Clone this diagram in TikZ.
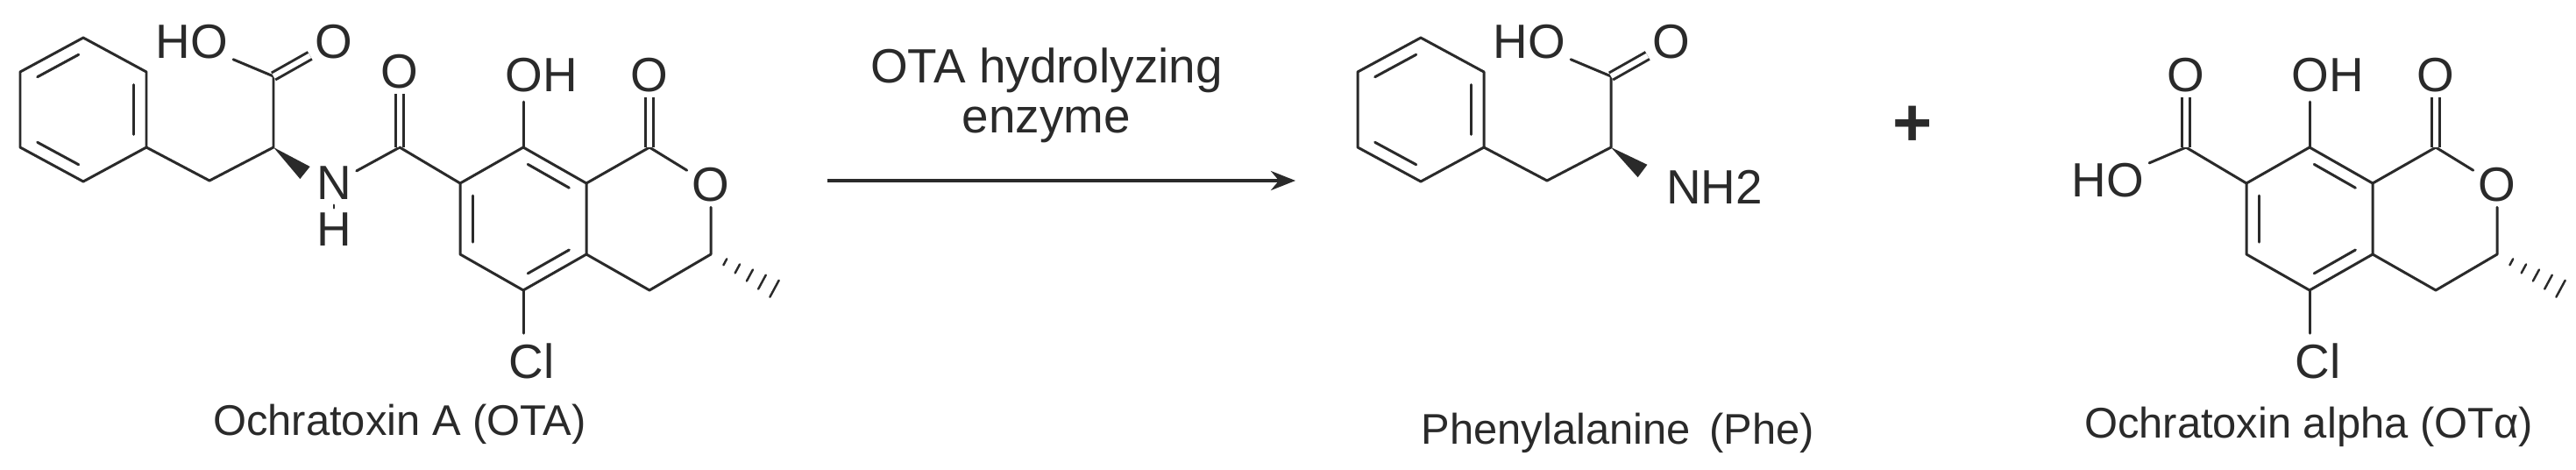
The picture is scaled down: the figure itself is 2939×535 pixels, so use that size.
\documentclass[tikz,border=0pt]{standalone}
\usepackage{fontspec}
\setmainfont{Liberation Sans}
\usetikzlibrary{calc,arrows.meta}
\definecolor{ink}{HTML}{2A2A2A}
\newcommand{\atomfont}{\fontsize{15.6}{18}\selectfont}
\newcommand{\capfont}{\fontsize{13.9}{16}\selectfont}
\newcommand{\hexdbl}[3]{\draw[bond,shorten <=0.06cm,shorten >=0.06cm] ($(#1)!0.2!(#3)$) -- ($(#2)!0.2!(#3)$);}
\begin{document}
\begin{tikzpicture}[x=0.01cm,y=-0.01cm,
  bond/.style={line width=0.85pt,draw=ink,line cap=round,line join=round},
  dbl/.style={draw=ink,line width=0.85pt,double=white,double distance=0.06cm},
  atom/.style={font=\atomfont,text=ink,inner sep=1.5pt},
  caption/.style={font=\capfont,text=ink,inner sep=0pt}]
\useasboundingbox (0,0) rectangle (2939,535);
\fill[white] (0,0) rectangle (2939,535);

% ---------- phenylalanine fragment (used twice) ----------
\foreach \dx/\pre in {0/a, 1526/p}{
\begin{scope}[shift={(\dx,0)}]
  \coordinate (\pre b1) at (95,43);  \coordinate (\pre b2) at (167,82);
  \coordinate (\pre b3) at (167,168); \coordinate (\pre b4) at (95,207);
  \coordinate (\pre b5) at (23,168);  \coordinate (\pre b6) at (23,82);
  \coordinate (\pre bc) at (95,125);
  \draw[bond] (\pre b1)--(\pre b2)--(\pre b3)--(\pre b4)--(\pre b5)--(\pre b6)--cycle;
  \hexdbl{\pre b6}{\pre b1}{\pre bc}
  \hexdbl{\pre b2}{\pre b3}{\pre bc}
  \hexdbl{\pre b4}{\pre b5}{\pre bc}
  \coordinate (\pre ch2) at (239,206);
  \coordinate (\pre ca) at (312,168);
  \coordinate (\pre cc) at (312,87);
  \node[atom] (\pre ho) at (219,48) {HO};
  \node[atom] (\pre o) at (381,48) {O};
  \draw[bond] (\pre b3)--(\pre ch2)--(\pre ca)--(\pre cc);
  \draw[bond] (\pre cc)--(\pre ho);
  \draw[dbl] (\pre cc)--(\pre o);
\end{scope}}
% wedges
\coordinate (awe) at (348,197);
\fill[ink] (aca) -- ($(awe)!0.09cm!90:(aca)$) -- ($(awe)!0.09cm!-90:(aca)$) -- cycle;
\coordinate (pwe) at (1874,195);
\fill[ink] (pca) -- ($(pwe)!0.09cm!90:(pca)$) -- ($(pwe)!0.09cm!-90:(pca)$) -- cycle;
\node[atom,anchor=west] (pnh2) at (1895,213) {NH2};

% ---------- OTA amide ----------
\node[atom] (an) at (381,209) {N};
\node[atom] (ah) at (381,262) {H};
\draw[bond] (an)--(ah);
\coordinate (aam) at (456,168);
\node[atom] (aamo) at (456,82) {O};
\draw[bond] (an)--(aam);
\draw[dbl] (aam)--(aamo);

% ---------- isochromanone core (used twice) ----------
\foreach \dx/\pre in {0/a, 2038/t}{
\begin{scope}[shift={(\dx,0)}]
  \coordinate (\pre c7) at (525,209); \coordinate (\pre c8) at (597,168);
  \coordinate (\pre c8a) at (669,209); \coordinate (\pre c4a) at (669,290);
  \coordinate (\pre c5) at (597,331); \coordinate (\pre c6) at (525,290);
  \coordinate (\pre rc) at (597,250);
  \draw[bond] (\pre c7)--(\pre c8)--(\pre c8a)--(\pre c4a)--(\pre c5)--(\pre c6)--cycle;
  \hexdbl{\pre c8}{\pre c8a}{\pre rc}
  \hexdbl{\pre c6}{\pre c7}{\pre rc}
  \hexdbl{\pre c4a}{\pre c5}{\pre rc}
  \node[atom,anchor=west,inner sep=0pt] (\pre oh) at (576,86) {OH};
  \coordinate (\pre ohb) at (597,116);
  \draw[bond] (\pre c8)--(\pre ohb);
  \node[atom,anchor=west,inner sep=0pt] (\pre cl) at (580,412) {Cl};
  \coordinate (\pre clb) at (597,380);
  \draw[bond] (\pre c5)--(\pre clb);
  \coordinate (\pre c1) at (741,168);
  \node[atom] (\pre co) at (741,86) {O};
  \node[atom] (\pre o2) at (811,211) {O};
  \coordinate (\pre c3) at (811,290);
  \coordinate (\pre c4) at (741,331);
  \coordinate (\pre me) at (885,330);
  \draw[bond] (\pre c8a)--(\pre c1)--(\pre o2)--(\pre c3)--(\pre c4)--(\pre c4a);
  \draw[dbl] (\pre c1)--(\pre co);
  \foreach \t in {0.22,0.41,0.6,0.79,0.98}{
    \draw[bond,line width=0.7pt] ($($(\pre c3)!\t!(\pre me)$)!{0.02cm+0.09cm*\t}!90:(\pre me)$) --
      ($($(\pre c3)!\t!(\pre me)$)!{0.02cm+0.09cm*\t}!-90:(\pre me)$);}
\end{scope}}
\draw[bond] (aam)--(ac7);
% OT alpha acid
\coordinate (tac) at (2494,168);
\node[atom] (tao) at (2494,86) {O};
\node[atom] (tho) at (2405,206) {HO};
\draw[bond] (tc7)--(tac)--(tho);
\draw[dbl] (tac)--(tao);

% ---------- arrow, plus, captions ----------
\coordinate (arS) at (944,206);
\coordinate (arE) at (1478,206);
\draw[line width=1.1pt,draw=ink,-{Stealth[length=0.28cm,width=0.22cm]}] (arS)--(arE);
\node[atom] (t1) at (1194,80) {OTA hydrolyzing};
\node[atom] (t2) at (1194,142) {enzyme};
\node[font=\fontsize{22}{24}\selectfont\bfseries,text=ink] (plus) at (2182,144) {+};
\node[caption] (capA) at (456,484) {Ochratoxin A (OTA)};
\node[caption] (capP) at (1846,494) {Phenylalanine\, (Phe)};
\node[caption] (capT) at (2634,487) {Ochratoxin alpha (OTα)};
\end{tikzpicture}
\end{document}
